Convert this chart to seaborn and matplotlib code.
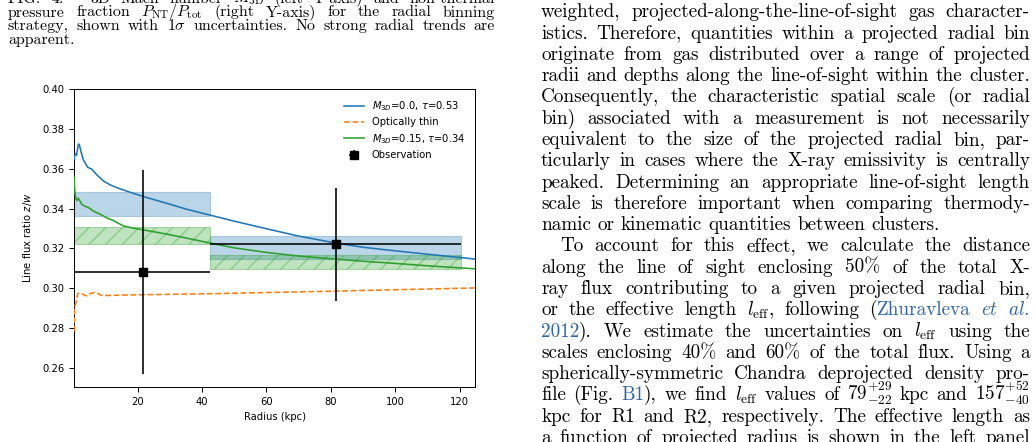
import numpy as np
import pandas as pd
import matplotlib
matplotlib.use("Agg")
import matplotlib.pyplot as plt
from matplotlib.transforms import IdentityTransform
import seaborn as sns

# ---------------- data ----------------
thick_r = [0.3, 0.5, 0.8, 1.1, 1.4, 1.7, 2.0, 2.6, 3.2, 3.8, 4.5, 5.8, 7.4, 9.4, 11.5,
           14.1, 17.7, 21.9, 29.0, 35.2, 42.6, 50, 60, 70, 81.6, 90, 100, 110, 124.7]
thick_y = [0.3645, 0.3665, 0.3675, 0.3668, 0.3700, 0.3724, 0.3718, 0.3678, 0.3644, 0.3628,
           0.3608, 0.3598, 0.3569, 0.3539, 0.3519, 0.3502, 0.3482, 0.3460, 0.3427, 0.3397,
           0.3367, 0.3337, 0.3299, 0.3262, 0.3227, 0.3206, 0.3188, 0.3171, 0.3147]

thin_r = [0.3, 0.45, 0.6, 0.8, 1.1, 1.5, 2.0, 2.9, 3.5, 4.2, 5.3, 6.7, 7.7, 8.7, 10.8,
          15, 21.9, 30, 42.6, 60, 81.6, 100, 124.7]
thin_y = [0.2783, 0.2890, 0.2912, 0.2920, 0.2945, 0.2974, 0.2976, 0.2971, 0.2966, 0.2962,
          0.2974, 0.2979, 0.2974, 0.2965, 0.2964, 0.2966, 0.2968, 0.2970, 0.2973, 0.2979,
          0.2986, 0.2993, 0.3002]

turb_r = [0.3, 0.5, 0.7, 0.95, 1.2, 1.6, 2.0, 2.7, 3.7, 4.8, 6.4, 8.4, 10.5, 12.5, 15.6,
          18.7, 21.9, 29.0, 35.2, 42.6, 50, 60, 70, 81.6, 90, 100, 110, 124.7]
turb_y = [0.3560, 0.3500, 0.3465, 0.3450, 0.3440, 0.3452, 0.3442, 0.3422, 0.3412, 0.3405,
          0.3387, 0.3372, 0.3353, 0.3340, 0.3313, 0.3302, 0.3293, 0.3272, 0.3252, 0.3227,
          0.3203, 0.3180, 0.3162, 0.3146, 0.3136, 0.3125, 0.3113, 0.3098]

bin_lo = [0.3, 42.6]
bin_hi = [42.6, 120.5]
obs_r = [21.67, 81.6]
obs_y = [0.3081, 0.3220]
obs_err = [0.0512, 0.0285]

band_thick_lo = [0.3365, 0.3146]
band_thick_hi = [0.3482, 0.3265]
band_turb_lo = [0.3223, 0.3096]
band_turb_hi = [0.3307, 0.3166]

labels = [r"$M_{3D}$=0.0, $\tau$=0.53", "Optically thin",
          r"$M_{3D}$=0.15, $\tau$=0.34", "Observation"]
xticks = [20, 40, 60, 80, 100, 120]
yticks = [0.26, 0.28, 0.30, 0.32, 0.34, 0.36, 0.38, 0.40]

BLUE, ORANGE, GREEN = "#1f77b4", "#ff7f0e", "#2ca02c"

# ---------------- figure ----------------
W, H = 1035, 442
fig = plt.figure(figsize=(W / 100, H / 100), dpi=100)
ax = fig.add_axes([74 / W, 1 - 387 / H, (475 - 74) / W, (387 - 89) / H])

FS = 7.2
for lo, hi, ylo, yhi in zip(bin_lo, bin_hi, band_thick_lo, band_thick_hi):
    ax.fill_between([lo, hi], [ylo, ylo], [yhi, yhi], facecolor=BLUE, alpha=0.3,
                    edgecolor=BLUE, linewidth=0.8, zorder=1)
for lo, hi, ylo, yhi in zip(bin_lo, bin_hi, band_turb_lo, band_turb_hi):
    ax.fill_between([lo, hi], [ylo, ylo], [yhi, yhi], facecolor=(0.17, 0.63, 0.17, 0.3),
                    edgecolor=(0.17, 0.63, 0.17, 0.35), hatch="//", linewidth=0.8, zorder=1)

sns.lineplot(x=thick_r, y=thick_y, ax=ax, color=BLUE, lw=1.15, label=labels[0], zorder=3)
sns.lineplot(x=thin_r, y=thin_y, ax=ax, color=ORANGE, lw=1.15, linestyle="--",
             label=labels[1], zorder=3)
sns.lineplot(x=turb_r, y=turb_y, ax=ax, color=GREEN, lw=1.15, label=labels[2], zorder=3)

xl = [r - lo for r, lo in zip(obs_r, bin_lo)]
xr = [hi - r for r, hi in zip(obs_r, bin_hi)]
ax.errorbar(obs_r, obs_y, xerr=[xl, xr], yerr=obs_err, fmt="s", color="k", ms=6,
            elinewidth=1.15, capsize=0, label=labels[3], zorder=4)

ax.set_xlim(0.3, 124.7)
ax.set_ylim(0.2505, 0.40)
ax.set_xticks(xticks)
ax.set_yticks(yticks)
ax.set_yticklabels([f"{v:.2f}" for v in yticks])
ax.tick_params(labelsize=FS, width=0.7, length=3.5)
for s in ax.spines.values():
    s.set_linewidth(0.7)
ax.set_xlabel("Radius (kpc)", fontsize=FS, labelpad=4)
ax.set_ylabel(r"Line flux ratio $z/w$", fontsize=FS, labelpad=6)
ax.legend(loc="upper right", frameon=False, fontsize=FS, handlelength=2.0,
          borderaxespad=0.6, labelspacing=0.45)

# ---------------- surrounding paper text ----------------
renderer = fig.canvas.get_renderer()
FAM = ["cmr10", "DejaVu Serif"]
LINK = "#2c64a4"


def put_line(text, x0, x1, y_img, size, justify, state=False):
    objs, widths = [], []
    for w in text.split(" "):
        parts = w.split("§")
        wobjs, wsum = [], 0.0
        for k, p in enumerate(parts):
            if k > 0:
                state = not state
            if not p:
                continue
            t = fig.text(0, 0, p, transform=IdentityTransform(), fontsize=size,
                         family=FAM, math_fontfamily="cm", color=LINK if state else "black",
                         va="baseline", ha="left")
            wd = t.get_window_extent(renderer).width
            wobjs.append((t, wd))
            wsum += wd
        objs.append(wobjs)
        widths.append(wsum)
    n = len(objs)
    space = 0.333 * size * 100 / 72
    gap = (x1 - x0 - sum(widths)) / (n - 1) if (justify and n > 1) else space
    x = x0
    for wobjs, wd in zip(objs, widths):
        xx = x
        for t, w in wobjs:
            t.set_position((xx, H - y_img))
            xx += w
        x += wd + gap
    return state


cap_lines = [
    r"FIG. 4.— 3D Mach number $M_\mathrm{3D}$ (left Y-axis) and non-thermal",
    r"pressure fraction $P_\mathrm{NT}/P_\mathrm{tot}$ (right Y-axis) for the radial binning",
    r"strategy, shown with $1\sigma$ uncertainties. No strong radial trends are",
    r"apparent.",
]
CAP_FS = 11.5
for i, ln in enumerate(cap_lines):
    put_line(ln, 8, 495, 2.6 + 13.9 * i, CAP_FS, justify=(i < 3))

body = [
    (r"spectroscopy measures the emission-weighted X-ray gas, emissivity-", True, 0),
    (r"weighted, projected-along-the-line-of-sight gas character-", True, 0),
    (r"istics. Therefore, quantities within a projected radial bin", True, 0),
    (r"originate from gas distributed over a range of projected", True, 0),
    (r"radii and depths along the line-of-sight within the cluster.", True, 0),
    (r"Consequently, the characteristic spatial scale (or radial", True, 0),
    (r"bin) associated with a measurement is not necessarily", True, 0),
    (r"equivalent to the size of the projected radial bin, par-", True, 0),
    (r"ticularly in cases where the X-ray emissivity is centrally", True, 0),
    (r"peaked. Determining an appropriate line-of-sight length", True, 0),
    (r"scale is therefore important when comparing thermody-", True, 0),
    (r"namic or kinematic quantities between clusters.", False, 0),
    (r"To account for this effect, we calculate the distance", True, 19),
    (r"along the line of sight enclosing 50% of the total X-", True, 0),
    (r"ray flux contributing to a given projected radial bin,", True, 0),
    (r"or the effective length $l_\mathrm{eff}$, following (§Zhuravleva $\mathit{et}$ $\mathit{al.}$§", True, 0),
    (r"§2012§). We estimate the uncertainties on $l_\mathrm{eff}$ using the", True, 0),
    (r"scales enclosing 40% and 60% of the total flux. Using a", True, 0),
    (r"spherically-symmetric Chandra deprojected density pro-", True, 0),
    (r"file (Fig. §B1§), we find $l_\mathrm{eff}$ values of $79^{+29}_{-22}$ kpc and $157^{+52}_{-40}$", True, 0),
    (r"kpc for R1 and R2, respectively. The effective length as", True, 0),
    (r"a function of projected radius is shown in the left panel", True, 0),
]
BODY_FS = 13.8
for i, (ln, just, ind) in enumerate(body):
    put_line(ln, 541 + ind, 1030, 17.3 + 21.28 * (i - 1), BODY_FS, justify=just)

fig.savefig("out.png", dpi=100)
